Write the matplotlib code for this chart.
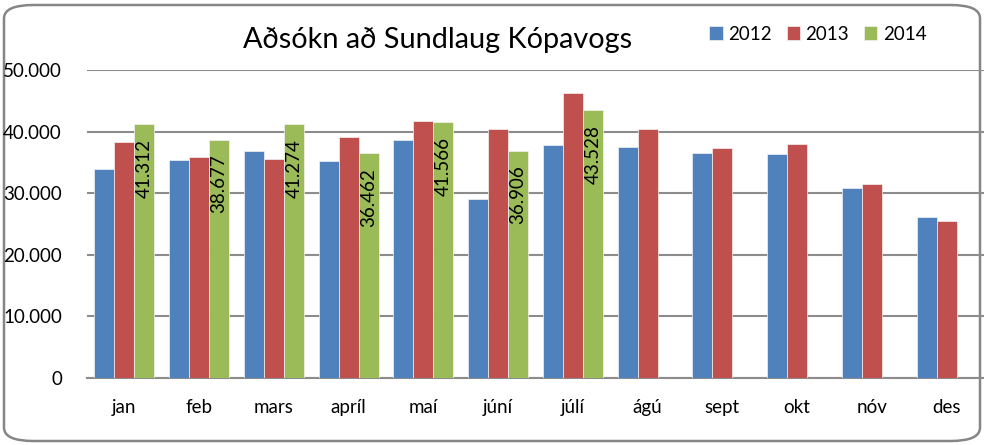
import matplotlib
matplotlib.use("Agg")
import matplotlib.pyplot as plt
from matplotlib.patches import FancyBboxPatch
from matplotlib.ticker import FuncFormatter, MultipleLocator
import numpy as np

months = ["jan", "feb", "mars", "apríl", "maí", "júní", "júlí", "ágú", "sept", "okt", "nóv", "des"]
v2012 = [33900, 35400, 36800, 35200, 38700, 29000, 37900, 37500, 36500, 36300, 30900, 26100]
v2013 = [38300, 35900, 35500, 39200, 41700, 40500, 46300, 40400, 37400, 38000, 31500, 25500]
v2014 = [41312, 38677, 41274, 36462, 41566, 36906, 43528]
years = ["2012", "2013", "2014"]
colors = ["#4F81BD", "#C0504D", "#9BBB59"]

plt.rcParams['font.family'] = ['Lato', 'DejaVu Sans']

fig = plt.figure(figsize=(9.84, 4.45), dpi=100)
W, H = 984, 445

# outer rounded frame
frame = FancyBboxPatch((4 / W, 4 / H), (980 - 4) / W, (440 - 4) / H,
                       boxstyle="round,pad=0,rounding_size=0.03",
                       transform=fig.transFigure, facecolor="white",
                       edgecolor="#868686", linewidth=1.8, zorder=-5)
fig.patches.append(frame)

ax = fig.add_axes([87 / W, 1 - 378 / H, (984 - 87) / W, (378 - 70) / H])
ax.set_facecolor("none")
ax.set_zorder(2)

x = np.arange(len(months))
bw = 0.268
series = [v2012, v2013, v2014]
for i, (vals, col, lab) in enumerate(zip(series, colors, years)):
    xs = x[:len(vals)] + (i - 1) * bw
    bars = ax.bar(xs, vals, width=bw, color=col, edgecolor="#f2f2f2",
                  linewidth=0.5, label=lab, zorder=3)
    if lab == "2014":
        for b, v in zip(bars, vals):
            ax.annotate(f"{v/1000:.3f}", (b.get_x() + b.get_width() / 2, v),
                        xytext=(0, -15), textcoords="offset pixels",
                        rotation=90, ha="center", va="top", fontsize=13.5,
                        color="black", zorder=4)

ax.set_xlim(-0.5, 11.5)
ax.set_ylim(0, 50000)
ax.yaxis.set_major_locator(MultipleLocator(10000))
ax.yaxis.set_major_formatter(FuncFormatter(lambda v, p: "0" if v == 0 else f"{int(v):,}".replace(",", ".")))
ax.set_xticks(x)
ax.set_xticklabels(months)
ax.tick_params(axis="both", length=0, labelsize=13.5, colors="black")
ax.tick_params(axis="y", pad=18)
ax.tick_params(axis="x", pad=15)
ax.grid(axis="y", color="#8c8c8c", linewidth=1.5, zorder=1)
ax.set_axisbelow(True)
for s in ["left", "right", "top"]:
    ax.spines[s].set_visible(False)
ax.spines["bottom"].set_color("#8c8c8c")
ax.spines["bottom"].set_linewidth(1.5)

fig.text(438 / W, 1 - 40 / H, "Aðsókn að Sundlaug Kópavogs", ha="center", va="center",
         fontsize=20.8, color="black")

leg = fig.legend(*ax.get_legend_handles_labels(), loc="center",
                 bbox_to_anchor=(818 / W, 1 - 34 / H), ncol=3, frameon=False,
                 handlelength=0.7, handleheight=0.7, columnspacing=0.8,
                 handletextpad=0.3, fontsize=13.5)

fig.savefig("out.png", dpi=100)
